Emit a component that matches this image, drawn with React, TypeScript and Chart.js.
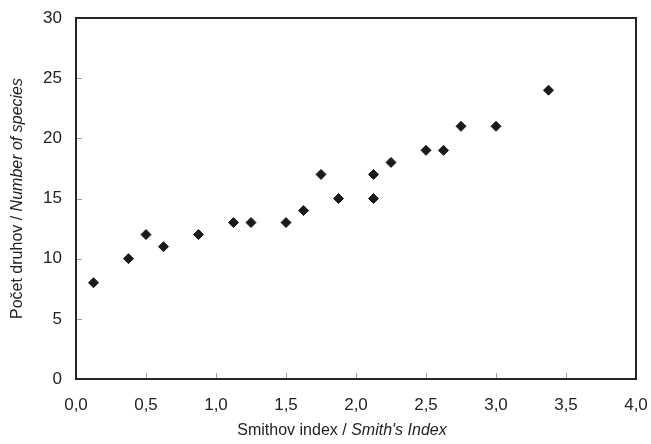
import React, { useEffect, useRef } from "react";
import { Chart, registerables } from "chart.js";

Chart.register(...registerables);

const smithIndex = [0.125, 0.375, 0.5, 0.625, 0.875, 1.125, 1.25, 1.5, 1.625, 1.75, 1.875, 2.125, 2.125, 2.25, 2.5, 2.625, 2.75, 3.0, 3.375];
const speciesCount = [8, 10, 12, 11, 12, 13, 13, 13, 14, 17, 15, 17, 15, 18, 19, 19, 21, 21, 24];

const xTitleNormal = "Smithov index / ";
const xTitleItalic = "Smith's Index";
const yTitleNormal = "Počet druhov / ";
const yTitleItalic = "Number of species";

const FONT = "'Liberation Sans', Arial, sans-serif";
const TEXT_COLOR = "#222222";

const frameAndTitles = {
  id: "frameAndTitles",
  afterDraw(chart: any) {
    const ctx = chart.ctx;
    const a = chart.chartArea;
    const xs = chart.scales.x;
    const ys = chart.scales.y;
    ctx.save();
    // inner tick marks
    ctx.strokeStyle = "#a0a0a0";
    ctx.lineWidth = 1;
    ctx.beginPath();
    ys.ticks.forEach((t: any) => {
      const py = Math.round(ys.getPixelForValue(t.value)) + 0.5;
      ctx.moveTo(a.left, py);
      ctx.lineTo(a.left + 6, py);
    });
    xs.ticks.forEach((t: any) => {
      const px = Math.round(xs.getPixelForValue(t.value)) + 0.5;
      ctx.moveTo(px, a.bottom);
      ctx.lineTo(px, a.bottom - 6);
    });
    ctx.stroke();
    // frame
    ctx.strokeStyle = "#262626";
    ctx.lineWidth = 2;
    ctx.strokeRect(a.left, a.top, a.right - a.left, a.bottom - a.top);

    // titles
    ctx.fillStyle = TEXT_COLOR;
    ctx.textBaseline = "middle";
    ctx.textAlign = "left";
    const normalFont = `16px ${FONT}`;
    const italicFont = `italic 16px ${FONT}`;
    const drawMixed = (normal: string, italic: string, cx: number, cy: number) => {
      ctx.font = normalFont;
      const w1 = ctx.measureText(normal).width;
      ctx.font = italicFont;
      const w2 = ctx.measureText(italic).width;
      const start = cx - (w1 + w2) / 2;
      ctx.font = normalFont;
      ctx.fillText(normal, start, cy);
      ctx.font = italicFont;
      ctx.fillText(italic, start + w1, cy);
    };
    drawMixed(xTitleNormal, xTitleItalic, 342, 431);
    ctx.save();
    ctx.translate(18, (a.top + a.bottom) / 2);
    ctx.rotate(-Math.PI / 2);
    drawMixed(yTitleNormal, yTitleItalic, 0, 0);
    ctx.restore();
    ctx.restore();
  },
};

export default function App() {
  const ref = useRef<HTMLCanvasElement | null>(null);
  useEffect(() => {
    document.body.style.margin = "0";
    const canvas = ref.current;
    if (!canvas) return;
    const chart = new Chart(canvas, {
      type: "scatter",
      data: {
        datasets: [
          {
            data: smithIndex.map((x, i) => ({ x, y: speciesCount[i] })),
            pointStyle: "rectRot",
            pointRadius: 5,
            pointHoverRadius: 5,
            backgroundColor: "#1a1a1a",
            borderColor: "#1a1a1a",
            borderWidth: 1,
          },
        ],
      },
      options: {
        responsive: false,
        animation: false,
        devicePixelRatio: 1,
        layout: { padding: { top: 18, right: 15, left: 0, bottom: 0 } },
        plugins: { legend: { display: false }, tooltip: { enabled: false } },
        scales: {
          x: {
            type: "linear",
            min: 0,
            max: 4,
            afterFit: (s: any) => {
              s.height = 65;
              s.paddingLeft = 0;
              s.paddingRight = 0;
            },
            grid: { display: false, drawTicks: false },
            border: { display: false },
            ticks: {
              stepSize: 0.5,
              padding: 16,
              color: TEXT_COLOR,
              font: { family: FONT, size: 17 },
              maxRotation: 0,
              callback: (v: any) => Number(v).toFixed(1).replace(".", ","),
            },
          },
          y: {
            type: "linear",
            min: 0,
            max: 30,
            afterFit: (s: any) => {
              s.width = 76;
              s.paddingTop = 0;
              s.paddingBottom = 0;
            },
            grid: { display: false, drawTicks: false },
            border: { display: false },
            ticks: {
              stepSize: 5,
              padding: 14,
              color: TEXT_COLOR,
              font: { family: FONT, size: 17 },
            },
          },
        },
      },
      plugins: [frameAndTitles],
    });
    return () => chart.destroy();
  }, []);
  return <canvas ref={ref} width={651} height={444} style={{ display: "block" }} />;
}
